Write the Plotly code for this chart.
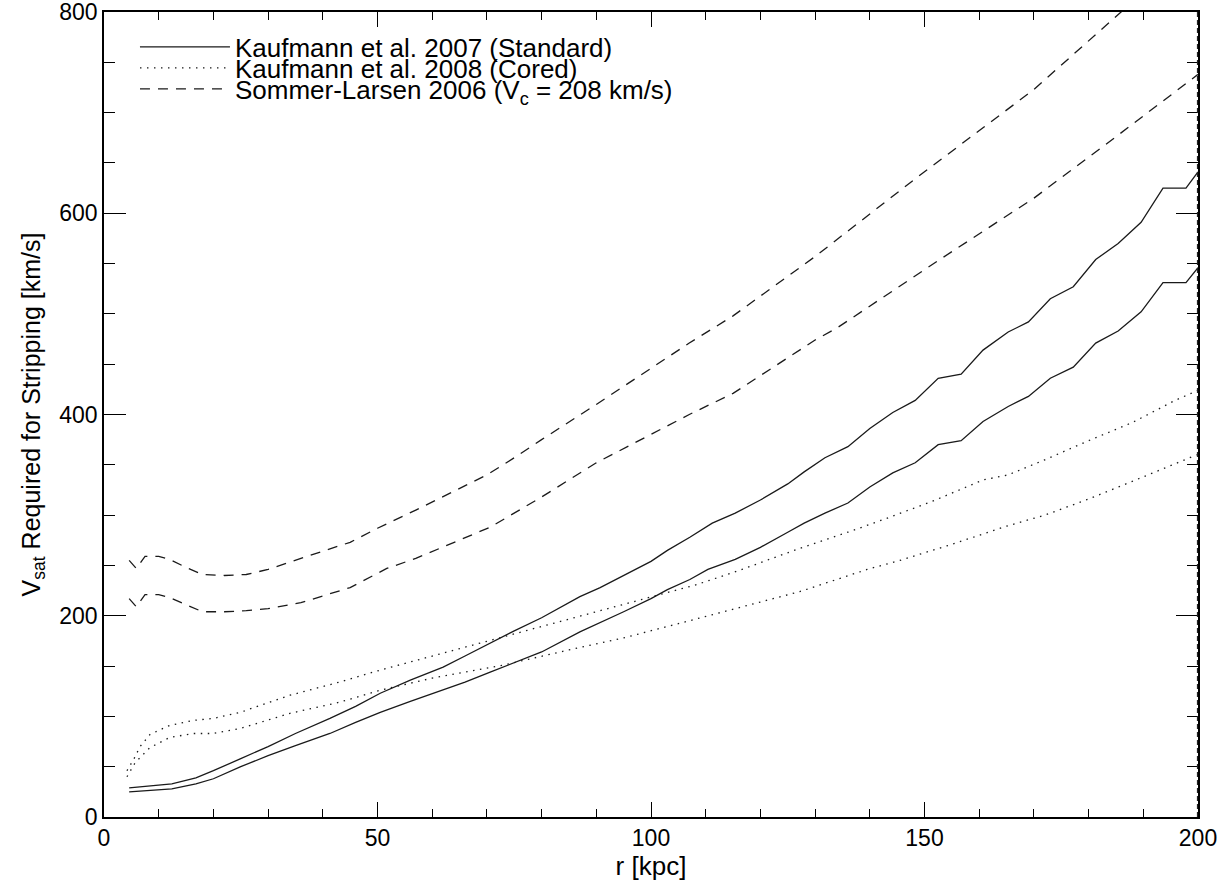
import plotly.graph_objects as go

# Kaufmann et al. 2007 (Standard) - two curves
r_std_hi = [4.6, 12.4, 16.8, 20, 25, 30, 35, 41.3, 46, 50.5, 56, 62, 66, 70.6, 75, 80, 87, 90.7, 95, 100,
            103, 107.1, 111.2, 115.4, 120, 125, 128, 131.8, 136, 140, 144.2, 148.3, 152.5, 156.7, 160.7,
            165.3, 169, 173, 177.2, 181.3, 185.4, 189.6, 193.6, 197.8, 200]
v_std_hi = [29, 33, 39, 46, 58, 70, 83, 98, 110, 123, 136, 149, 160, 173, 185, 198, 219, 228, 240, 254,
            265, 278, 292, 302, 315, 331, 343, 357, 368, 386, 402, 414, 436, 440, 464,
            482, 492, 515, 527, 554, 570, 591, 625, 625, 641]
r_std_lo = [4.6, 12.4, 16.8, 20, 25, 30, 35, 41.3, 46, 50.5, 56, 62, 66, 70.6, 75, 80, 87, 90.7, 95, 100,
            103, 107.1, 110.4, 115.4, 120, 125, 128, 131.8, 136, 140, 144.2, 148.3, 152.5, 156.7, 160.7,
            165.3, 169, 173, 177.2, 181.3, 185.4, 189.6, 193.6, 197.8, 200]
v_std_lo = [25, 28, 33, 38, 50, 61, 71, 83, 94, 104, 115, 126, 134, 144, 153, 164, 184, 193, 204, 217,
            226, 236, 246, 256, 268, 283, 292, 302, 312, 328, 342, 352, 370, 374, 393,
            408, 418, 436, 447, 471, 483, 502, 531, 531, 546]

# Kaufmann et al. 2008 (Cored) - two curves
r_cor_hi = [4.2, 5.5, 6.6, 8.4, 12, 16.3, 20, 24.9, 34, 43, 50.5, 60, 73, 85, 95, 108.4, 116.6, 127.2,
            136, 143.7, 152, 160.7, 165.3, 172, 180, 188, 195.8, 200]
v_cor_hi = [46, 58, 70, 82, 91, 96, 98, 104, 121, 134, 146, 160, 179, 197, 212, 231, 246, 267,
            283, 298, 315, 335, 340, 355, 374, 392, 414, 424]
r_cor_lo = [4.2, 5.7, 8.4, 12, 16.3, 20, 24.9, 34, 43, 50.5, 60, 73, 85, 95, 108.4, 127.2, 139.5, 145.5,
            155, 165, 172, 180, 190, 199.8]
v_cor_lo = [40, 54, 69, 79, 83, 83, 88, 103, 114, 126, 138, 151, 166, 178, 197, 224, 246, 255,
            271, 289, 300, 316, 338, 360]

# Sommer-Larsen 2006 (Vc = 208 km/s) - two curves
r_sl_hi = [4.6, 5.9, 7.5, 10, 12, 15, 18, 22, 26, 30, 36, 45, 50, 57, 70, 75, 80, 90, 107, 115, 130,
           148, 170, 185, 200]
v_sl_hi = [255, 247, 259, 259, 256, 248, 241, 240, 241, 246, 257, 273, 287, 305, 340, 357, 375, 410,
           471, 498, 557, 633, 723, 795, 868]
r_sl_lo = [4.6, 5.9, 7.5, 10, 12, 15, 18, 22, 26, 30, 36, 45, 51.7, 57, 70.6, 80, 90, 107, 115, 130,
           134, 152.8, 170, 185, 200]
v_sl_lo = [217, 209, 221, 221, 218, 211, 204, 204, 205, 207, 213, 228, 247, 257, 288, 318, 352, 400,
           421, 474, 486, 554, 615, 676, 738]

names = ["Kaufmann et al. 2007 (Standard)",
         "Kaufmann et al. 2008 (Cored)",
         "Sommer-Larsen 2006 (V<sub>c</sub> = 208 km/s)"]

x_ticks = [0, 50, 100, 150, 200]
y_ticks = [0, 200, 400, 600, 800]

LC = "#1a1a1a"
LW = 1.3
FONT = "Liberation Sans, Arial, Helvetica, sans-serif"
legend_ids = ["legend", "legend2", "legend3"]

fig = go.Figure()
series = [
    (r_std_hi, v_std_hi, "solid", 0, True),
    (r_std_lo, v_std_lo, "solid", 0, False),
    (r_cor_hi, v_cor_hi, "1.5px,5.5px", 1, True),
    (r_cor_lo, v_cor_lo, "1.5px,5.5px", 1, False),
    (r_sl_hi, v_sl_hi, "10px,8px", 2, True),
    (r_sl_lo, v_sl_lo, "10px,8px", 2, False),
]
for xs, ys, dash, k, show in series:
    fig.add_trace(go.Scatter(
        x=xs, y=ys, mode="lines", name=names[k], legendgroup=str(k), showlegend=show,
        legend=legend_ids[k],
        line=dict(color=LC, width=LW, dash=dash), hoverinfo="skip"))

fig.add_shape(type="line", xref="x", yref="paper", x0=200, x1=200, y0=0, y1=1,
              line=dict(color="#222", width=2.2, dash="5px,3px"))

axis_common = dict(
    showgrid=False, zeroline=False, showline=True, linecolor="black", linewidth=1.5,
    mirror="allticks", ticks="inside", tickcolor="black", tickwidth=1.2, automargin=False,
    ticklabeloverflow="allow",
    tickfont=dict(family=FONT, size=23, color="black"),
)
fig.update_xaxes(range=[0, 200], tickvals=x_ticks, ticklen=15,
                 minor=dict(dtick=10, ticklen=8, ticks="inside", tickcolor="black", tickwidth=1.2),
                 title=dict(text="r [kpc]", font=dict(family=FONT, size=26, color="black"), standoff=6),
                 **axis_common)
fig.update_yaxes(range=[0, 800], tickvals=y_ticks, ticklen=22,
                 minor=dict(dtick=50, ticklen=11, ticks="inside", tickcolor="black", tickwidth=1.2),
                 title=dict(text="V<sub>sat</sub> Required for Stripping [km/s]",
                            font=dict(family=FONT, size=25, color="black"), standoff=12),
                 **axis_common)

legend_style = dict(x=0.0283, xanchor="left", yanchor="middle", bgcolor="rgba(0,0,0,0)",
                    font=dict(family=FONT, size=26, color="black"), itemwidth=90,
                    borderwidth=0)
fig.update_layout(
    width=1230, height=890,
    margin=dict(l=104, r=32, t=12, b=73),
    paper_bgcolor="white", plot_bgcolor="white",
    font=dict(family=FONT, size=22, color="black"),
    legend=dict(y=0.9565, **legend_style),
    legend2=dict(y=0.9304, **legend_style),
    legend3=dict(y=0.9043, **legend_style),
    showlegend=True,
)

fig.write_html("out.html")
